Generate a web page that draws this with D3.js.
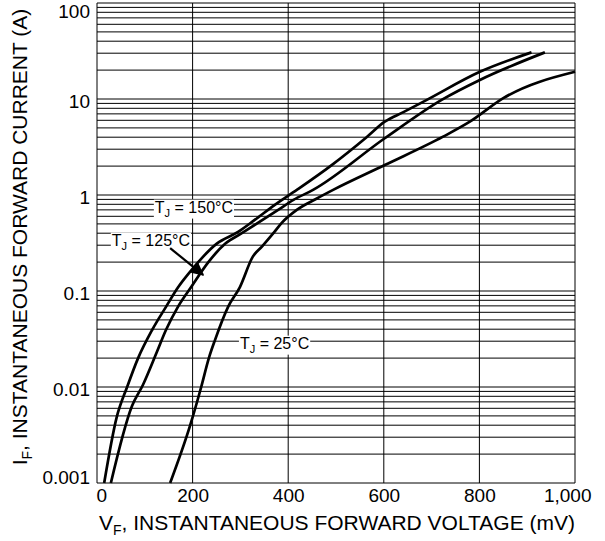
<!DOCTYPE html>
<html>
<head>
<meta charset="utf-8">
<script src="https://cdn.jsdelivr.net/npm/d3@7"></script>
<style>
  body { margin: 0; background: #fff; }
  text { font-family: "Liberation Sans", Arial, Helvetica, sans-serif; fill: #000; }
</style>
</head>
<body>
<div class="chart-container"></div>
<script>
// forward voltage (mV) vs forward current (A)
const curve150 = [[15, 0.001], [41, 0.0048], [63, 0.01], [86, 0.02], [115, 0.039], [144, 0.068],
  [170, 0.11], [198, 0.166], [250, 0.31], [296, 0.415], [330, 0.55], [372, 0.79], [418, 1.13],
  [491, 2.05], [564, 4.0], [602, 5.8], [641, 7.3], [690, 9.8], [801, 19.2], [909, 30.6]];
const curve125 = [[29, 0.001], [73, 0.0063], [96, 0.0105], [125, 0.023], [144, 0.039], [169, 0.068],
  [197, 0.11], [233, 0.2], [268, 0.31], [303, 0.4], [379, 0.7], [411, 0.89],
  [452, 1.13], [602, 3.9], [721, 9.8], [801, 15.8], [937, 30.6]];
const curve25 = [[153, 0.001], [195, 0.004], [218, 0.01], [234, 0.02], [247, 0.031],
  [274, 0.068], [299, 0.11], [326, 0.228], [345, 0.29], [369, 0.4], [386, 0.51],
  [418, 0.7], [460, 0.92], [494, 1.13], [602, 2.05], [724, 4.05], [780, 5.8], [850, 10.2], [1000, 19.2]];

const xTicks = [0, 200, 400, 600, 800, 1000];
const yTicks = [0.001, 0.01, 0.1, 1, 10, 100];
const yTickLabels = ["0.001", "0.01", "0.1", "1", "10", "100"];

// curve labels: [temperature text, mV, A] (left edge / vertical centre of the label)
const labels = [["150°C", 121, 0.75], ["125°C", 31, 0.34], ["25°C", 299, 0.0287]];
// arrow for the 125°C label: from / to in [mV, A]
const arrow = [[153, 0.28], [222, 0.147]];

const W = 605, H = 541;
const margin = { top: 3, right: 30, bottom: 58, left: 97 };

const svg = d3.select(".chart-container").append("svg")
    .attr("width", W)
    .attr("height", H);

const x = d3.scaleLinear()
    .domain([0, 1000])
    .range([margin.left, W - margin.right]);

const y = d3.scaleLog()
    .domain([0.001, 100])
    .range([H - margin.bottom, margin.top]);

// grid
const grid = svg.append("g").attr("stroke", "#000").attr("stroke-width", 1);
grid.selectAll("line.h")
    .data(y.ticks())
    .join("line")
    .attr("class", "h")
    .attr("x1", x(0)).attr("x2", x(1000))
    .attr("y1", d => y(d)).attr("y2", d => y(d));
grid.selectAll("line.v")
    .data(xTicks)
    .join("line")
    .attr("class", "v")
    .attr("x1", d => x(d)).attr("x2", d => x(d))
    .attr("y1", y(0.001)).attr("y2", y(100));

// axes
const xAxis = svg.append("g")
    .attr("transform", "translate(0," + y(0.001) + ")")
    .call(d3.axisBottom(x).tickValues(xTicks).tickFormat(d3.format(",")).tickSize(0).tickPadding(6));
xAxis.select(".domain").remove();
xAxis.selectAll("text").attr("font-size", 19).attr("font-family", null);
xAxis.selectAll(".tick text").filter(d => d === 0).attr("text-anchor", "start").attr("dx", -1);
xAxis.selectAll(".tick text").filter(d => d === 1000).attr("text-anchor", "end").attr("dx", 16);

const yAxis = svg.append("g")
    .attr("transform", "translate(" + x(0) + ",0)")
    .call(d3.axisLeft(y).tickValues(yTicks).tickFormat((d, i) => yTickLabels[i]).tickSize(0).tickPadding(7));
yAxis.select(".domain").remove();
yAxis.selectAll("text").attr("font-size", 19).attr("font-family", null)
    .attr("dy", d => d === 100 ? "0.75em" : d === 0.001 ? "0.05em" : "0.45em");

// curves
const line = d3.line()
    .curve(d3.curveMonotoneX)
    .x(d => x(d[0]))
    .y(d => y(d[1]));

[curve150, curve125, curve25].forEach(c => {
    svg.append("path")
        .datum(c)
        .attr("d", line)
        .attr("fill", "none")
        .attr("stroke", "#000")
        .attr("stroke-width", 2.7)
        .attr("stroke-linejoin", "round");
});

// curve labels with white boxes
labels.forEach(l => {
    const g = svg.append("g");
    const t = g.append("text")
        .attr("x", x(l[1]))
        .attr("y", y(l[2]))
        .attr("dy", "0.35em")
        .attr("font-size", 16);
    t.append("tspan").text("T");
    t.append("tspan").attr("font-size", 11).attr("dy", 4).text("J");
    t.append("tspan").attr("dy", -4).text(" = " + l[0]);
    const b = t.node().getBBox();
    g.insert("rect", "text")
        .attr("x", b.x - 1).attr("y", b.y + 1)
        .attr("width", b.width + 2).attr("height", b.height - 1)
        .attr("fill", "#fff");
});

// arrow to the 125°C curve
svg.append("defs").append("marker")
    .attr("id", "head")
    .attr("viewBox", "0 0 10 10")
    .attr("refX", 9).attr("refY", 5)
    .attr("markerWidth", 6).attr("markerHeight", 6)
    .attr("orient", "auto")
    .append("path")
    .attr("d", "M0,0L10,5L0,10z")
    .attr("fill", "#000");
svg.append("line")
    .attr("x1", x(arrow[0][0])).attr("y1", y(arrow[0][1]))
    .attr("x2", x(arrow[1][0])).attr("y2", y(arrow[1][1]))
    .attr("stroke", "#000")
    .attr("stroke-width", 2.2)
    .attr("marker-end", "url(#head)");

// axis titles
const xt = svg.append("text")
    .attr("x", (x(0) + x(1000)) / 2 + 1)
    .attr("y", 530)
    .attr("text-anchor", "middle")
    .attr("font-size", 21);
xt.append("tspan").text("V");
xt.append("tspan").attr("font-size", 14).attr("dy", 5).text("F");
xt.append("tspan").attr("dy", -5).text(", INSTANTANEOUS FORWARD VOLTAGE (mV)");

const yt = svg.append("text")
    .attr("transform", "translate(27,237) rotate(-90)")
    .attr("text-anchor", "middle")
    .attr("font-size", 21);
yt.append("tspan").text("I");
yt.append("tspan").attr("font-size", 14).attr("dy", 5).text("F");
yt.append("tspan").attr("dy", -5).text(", INSTANTANEOUS FORWARD CURRENT (A)");
</script>
</body>
</html>
